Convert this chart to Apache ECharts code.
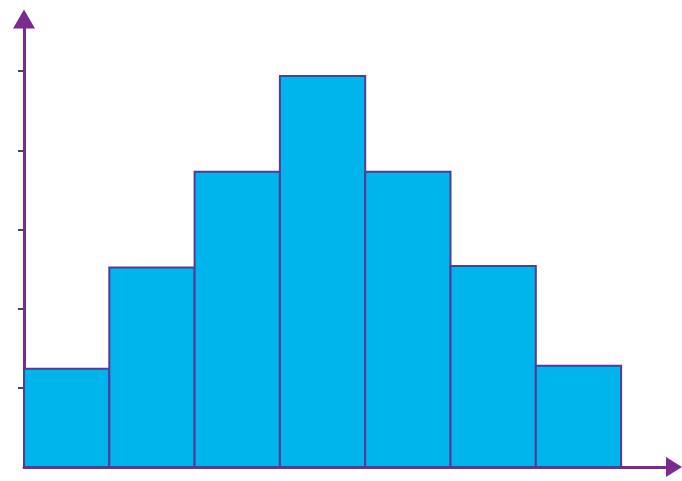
<!DOCTYPE html>
<html>
<head>
<meta charset="utf-8">
<script src="https://cdn.jsdelivr.net/npm/echarts@6/dist/echarts.min.js"></script>
<style>html,body{margin:0;padding:0;background:#fff;}#c{width:682px;height:481px;}</style>
</head>
<body>
<div id="c"></div>
<script>
var binStarts = [0, 1, 2, 3, 4, 5, 6];
var binEnds = [1, 2, 3, 4, 5, 6, 7];
var frequencies = [1.24, 2.52, 3.73, 4.94, 3.73, 2.54, 1.28];
var yTickValues = [1, 2, 3, 4, 5];

var data = binStarts.map(function (s, i) { return [s, binEnds[i], frequencies[i]]; });

var chart = echarts.init(document.getElementById('c'), null, {renderer: 'canvas'});
chart.setOption({
  animation: false,
  backgroundColor: '#ffffff',
  grid: {left: 24, right: 8, top: 19, bottom: 14},
  xAxis: {
    type: 'value', min: 0, max: 7.62,
    splitLine: {show: false}, axisTick: {show: false}, axisLabel: {show: false},
    axisLine: {show: true, onZero: false, lineStyle: {color: '#7b2a8e', width: 3},
      symbol: ['none', 'triangle'], symbolSize: [20, 16]}
  },
  yAxis: {
    type: 'value', min: 0, max: 5.66, interval: 1,
    splitLine: {show: false}, axisLabel: {show: false},
    axisTick: {show: true, length: 6, customValues: yTickValues, lineStyle: {color: '#5b3a6e', width: 2}},
    axisLine: {show: true, lineStyle: {color: '#7b2a8e', width: 3},
      symbol: ['none', 'triangle'], symbolSize: [22, 19]}
  },
  series: [{
    type: 'custom',
    data: data,
    encode: {x: [0, 1], y: 2},
    renderItem: function (params, api) {
      var p0 = api.coord([api.value(0), api.value(2)]);
      var p1 = api.coord([api.value(1), 0]);
      return {
        type: 'rect',
        shape: {x: p0[0], y: p0[1], width: p1[0] - p0[0], height: p1[1] - p0[1]},
        style: {fill: '#00b4ec', stroke: '#553a96', lineWidth: 2}
      };
    }
  }]
});
</script>
</body>
</html>
